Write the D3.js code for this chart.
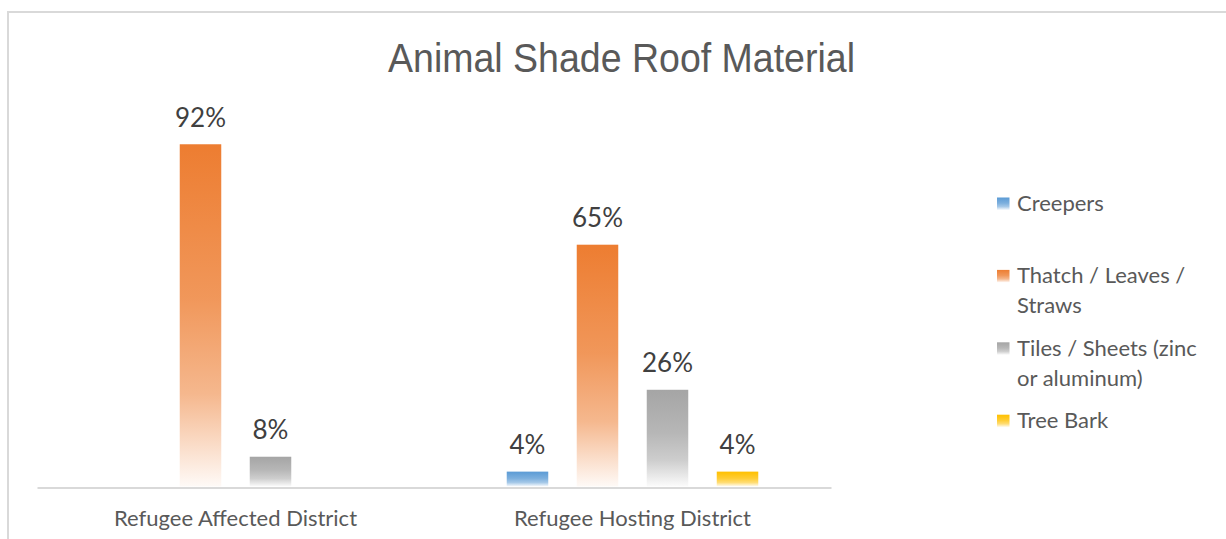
<!DOCTYPE html>
<html>
<head>
<meta charset="utf-8">
<script src="https://cdn.jsdelivr.net/npm/d3@7"></script>
<style>
  html, body { margin: 0; padding: 0; background: #fff; }
  svg { display: block; }
</style>
</head>
<body>
<svg id="chart" width="1226" height="539"></svg>
<script>
// Chart data
const title = "Animal Shade Roof Material";
const categories = ["Refugee Affected District", "Refugee Hosting District"];
const seriesNames = ["Creepers", "Thatch / Leaves / Straws", "Tiles / Sheets (zinc or aluminum)", "Tree Bark"];
const legendLines = [["Creepers"], ["Thatch / Leaves /", "Straws"], ["Tiles / Sheets (zinc", "or aluminum)"], ["Tree Bark"]];
const seriesColors = ["#5B9BD5", "#ED7D31", "#A5A5A5", "#FFC000"];
// values per series, in category order (null = no bar)
const creepers = [null, 0.04];
const thatch = [0.92, 0.65];
const tiles = [0.08, 0.26];
const treeBark = [null, 0.04];
const seriesValues = [creepers, thatch, tiles, treeBark];

const svg = d3.select("#chart");
const W = 1226, H = 539;
const font = "Lato, 'Open Sans', sans-serif";

// chart area border
svg.append("rect")
  .attr("x", 8).attr("y", 12)
  .attr("width", W + 20).attr("height", H + 20)
  .attr("fill", "#fff")
  .attr("stroke", "#d9d9d9").attr("stroke-width", 2);

// vertical fade gradients, one per series
const defs = svg.append("defs");
seriesColors.forEach((c, i) => {
  const g = defs.append("linearGradient")
    .attr("id", "grad" + i)
    .attr("x1", 0).attr("y1", 0).attr("x2", 0).attr("y2", 1);
  [[0, 1], [0.45, 0.8], [0.73, 0.55], [1, 0.04]].forEach(([o, a]) => {
    g.append("stop").attr("offset", o).attr("stop-color", c).attr("stop-opacity", a);
  });
});

// scales
const x0 = d3.scaleBand().domain(categories).range([37, 831]).padding(0);
const x1 = d3.scaleBand().domain(seriesNames).range([0, x0.bandwidth()])
  .paddingInner(0.407).paddingOuter(1.039);
const y = d3.scaleLinear().domain([0, 1]).range([486.5, 114.5]);

// title
svg.append("text")
  .attr("x", 621.5).attr("y", 72)
  .attr("text-anchor", "middle")
  .attr("font-family", "'Liberation Sans', Arial, sans-serif")
  .attr("font-size", 41)
  .attr("textLength", 467).attr("lengthAdjust", "spacingAndGlyphs")
  .attr("fill", "#595959")
  .text(title);

// bars
const bars = [];
seriesValues.forEach((vals, si) => {
  vals.forEach((v, ci) => {
    if (v != null) bars.push({ s: si, c: categories[ci], v });
  });
});

const gBars = svg.append("g");
gBars.selectAll("rect").data(bars).join("rect")
  .attr("x", d => x0(d.c) + x1(seriesNames[d.s]))
  .attr("y", d => y(d.v))
  .attr("width", x1.bandwidth())
  .attr("height", d => y(0) - y(d.v))
  .attr("fill", d => `url(#grad${d.s})`);

// value labels
gBars.selectAll("text").data(bars).join("text")
  .attr("x", d => x0(d.c) + x1(seriesNames[d.s]) + x1.bandwidth() / 2)
  .attr("y", d => y(d.v) - 17.5)
  .attr("text-anchor", "middle")
  .attr("font-family", font)
  .attr("font-size", 26)
  .attr("fill", "#404040")
  .text(d => d3.format(".0%")(d.v));

// category axis
const xAxis = svg.append("g").attr("transform", `translate(0,${487.5})`)
  .call(d3.axisBottom(x0).tickSize(0).tickPadding(0));
xAxis.select(".domain").attr("stroke", "#d9d9d9").attr("stroke-width", 2);
xAxis.selectAll(".tick text")
  .attr("y", 38.5).attr("dy", 0)
  .attr("font-family", font)
  .attr("font-size", 22)
  .attr("fill", "#595959");

// legend
const legend = svg.append("g");
seriesNames.forEach((name, i) => {
  const base = 211 + i * 72.4;
  legend.append("rect")
    .attr("x", 997).attr("y", base - 13.5)
    .attr("width", 12.5).attr("height", 12.5)
    .attr("fill", `url(#grad${i})`);
  const t = legend.append("text")
    .attr("font-family", font)
    .attr("font-size", 22)
    .attr("fill", "#595959");
  legendLines[i].forEach((line, li) => {
    t.append("tspan").attr("x", 1017).attr("y", base + li * 30).text(line);
  });
});
</script>
</body>
</html>
